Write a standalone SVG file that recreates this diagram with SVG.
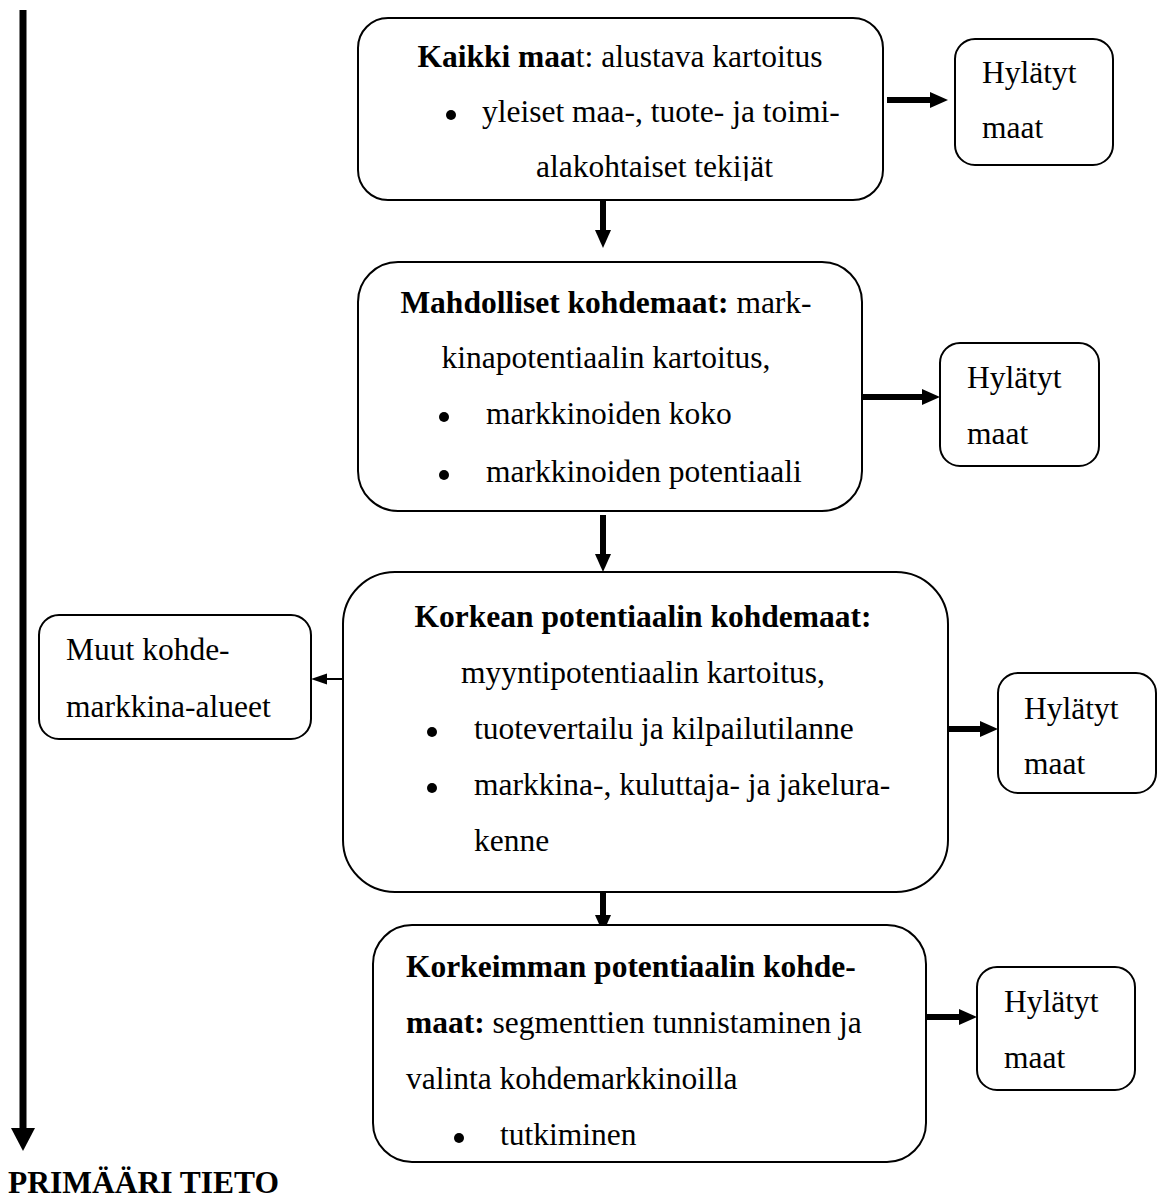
<svg xmlns="http://www.w3.org/2000/svg" width="1166" height="1204" viewBox="0 0 1166 1204">
  <style>
    .box { fill: #ffffff; stroke: #000000; stroke-width: 2; }
    .t { font-family: "Liberation Serif", "Times New Roman", serif; font-size: 31.5px; fill: #000000; }
    .b { font-weight: bold; }
    .mid { text-anchor: middle; }
    .thick { stroke: #000000; stroke-width: 6; fill: none; marker-end: url(#headThick); }
    .thin { stroke: #000000; stroke-width: 2; fill: none; marker-end: url(#headThin); }
    .main { stroke: #000000; stroke-width: 7; fill: none; marker-end: url(#headMain); }
    .dot { fill: #000000; }
  </style>
  <defs>
    <marker id="headThick" markerUnits="userSpaceOnUse" markerWidth="18" markerHeight="16" refX="4" refY="8" orient="auto">
      <path d="M0,0 L18,8 L0,16 Z" fill="#000000"/>
    </marker>
    <marker id="headThin" markerUnits="userSpaceOnUse" markerWidth="16" markerHeight="12" refX="3" refY="6" orient="auto">
      <path d="M0,0.5 L16,6 L0,11.5 Z" fill="#000000"/>
    </marker>
    <marker id="headMain" markerUnits="userSpaceOnUse" markerWidth="23" markerHeight="24" refX="4" refY="12" orient="auto">
      <path d="M0,0 L23,12 L0,24 Z" fill="#000000"/>
    </marker>
    <!-- text area of the first box: the last line is cut just below its baseline -->
    <clipPath id="clip1">
      <rect x="358" y="18" width="525" height="163"/>
    </clipPath>
  </defs>

  <!-- connectors -->
  <g id="connectors">
    <line class="main" x1="23" y1="10" x2="23" y2="1132"/>
    <line class="thick" x1="603" y1="200" x2="603" y2="234"/>
    <line class="thick" x1="603" y1="515" x2="603" y2="558"/>
    <line class="thick" x1="603" y1="892" x2="603" y2="919"/>
    <line class="thick" x1="887" y1="100" x2="934" y2="100"/>
    <line class="thick" x1="862" y1="397" x2="926" y2="397"/>
    <line class="thick" x1="948" y1="729" x2="984" y2="729"/>
    <line class="thick" x1="926" y1="1017" x2="963" y2="1017"/>
    <line class="thin" x1="343" y1="679" x2="324" y2="679"/>
  </g>

  <!-- stage 1 -->
  <g id="kaikki-maat">
    <rect class="box" x="358" y="18" width="525" height="182" rx="30"/>
    <g clip-path="url(#clip1)">
      <text class="t mid" x="620" y="67"><tspan class="b">Kaikki maa</tspan>t: alustava kartoitus</text>
      <circle class="dot" cx="451" cy="115" r="5"/>
      <text class="t" x="482" y="122">yleiset maa-, tuote- ja toimi-</text>
      <text class="t" x="536" y="177">alakohtaiset tekijät</text>
    </g>
  </g>

  <g id="hylatyt-1">
    <rect class="box" x="955" y="39" width="158" height="126" rx="20"/>
    <text class="t" x="982" y="83">Hylätyt</text>
    <text class="t" x="982" y="138">maat</text>
  </g>

  <!-- stage 2 -->
  <g id="mahdolliset-kohdemaat">
    <rect class="box" x="358" y="262" width="504" height="249" rx="40"/>
    <text class="t mid" x="606" y="313"><tspan class="b">Mahdolliset kohdemaat:</tspan> mark-</text>
    <text class="t mid" x="606" y="368">kinapotentiaalin kartoitus,</text>
    <circle class="dot" cx="444" cy="417" r="5"/>
    <text class="t" x="486" y="424">markkinoiden koko</text>
    <circle class="dot" cx="444" cy="475" r="5"/>
    <text class="t" x="486" y="482">markkinoiden potentiaali</text>
  </g>

  <g id="hylatyt-2">
    <rect class="box" x="940" y="343" width="159" height="123" rx="20"/>
    <text class="t" x="967" y="388">Hylätyt</text>
    <text class="t" x="967" y="444">maat</text>
  </g>

  <!-- stage 3 -->
  <g id="korkean-potentiaalin">
    <rect class="box" x="343" y="572" width="605" height="320" rx="52"/>
    <text class="t mid" x="643" y="627"><tspan class="b">Korkean potentiaalin kohdemaat:</tspan></text>
    <text class="t mid" x="643" y="683">myyntipotentiaalin kartoitus,</text>
    <circle class="dot" cx="432" cy="732" r="5"/>
    <text class="t" x="474" y="739">tuotevertailu ja kilpailutilanne</text>
    <circle class="dot" cx="432" cy="788" r="5"/>
    <text class="t" x="474" y="795">markkina-, kuluttaja- ja jakelura-</text>
    <text class="t" x="474" y="851">kenne</text>
  </g>

  <g id="muut-kohdemarkkina-alueet">
    <rect class="box" x="39" y="615" width="272" height="124" rx="20"/>
    <text class="t" x="66" y="660">Muut kohde-</text>
    <text class="t" x="66" y="717">markkina-alueet</text>
  </g>

  <g id="hylatyt-3">
    <rect class="box" x="998" y="673" width="158" height="120" rx="20"/>
    <text class="t" x="1024" y="719">Hylätyt</text>
    <text class="t" x="1024" y="774">maat</text>
  </g>

  <!-- stage 4 -->
  <g id="korkeimman-potentiaalin">
    <rect class="box" x="373" y="925" width="553" height="237" rx="39"/>
    <text class="t" x="406" y="977"><tspan class="b">Korkeimman potentiaalin kohde-</tspan></text>
    <text class="t" x="406" y="1033"><tspan class="b">maat:</tspan> segmenttien tunnistaminen ja</text>
    <text class="t" x="406" y="1089">valinta kohdemarkkinoilla</text>
    <circle class="dot" cx="459" cy="1138" r="5"/>
    <text class="t" x="500" y="1145">tutkiminen</text>
  </g>

  <g id="hylatyt-4">
    <rect class="box" x="977" y="967" width="158" height="123" rx="20"/>
    <text class="t" x="1004" y="1012">Hylätyt</text>
    <text class="t" x="1004" y="1068">maat</text>
  </g>

  <g id="primaari-tieto">
    <text class="t b" x="8" y="1193">PRIMÄÄRI TIETO</text>
  </g>
</svg>
